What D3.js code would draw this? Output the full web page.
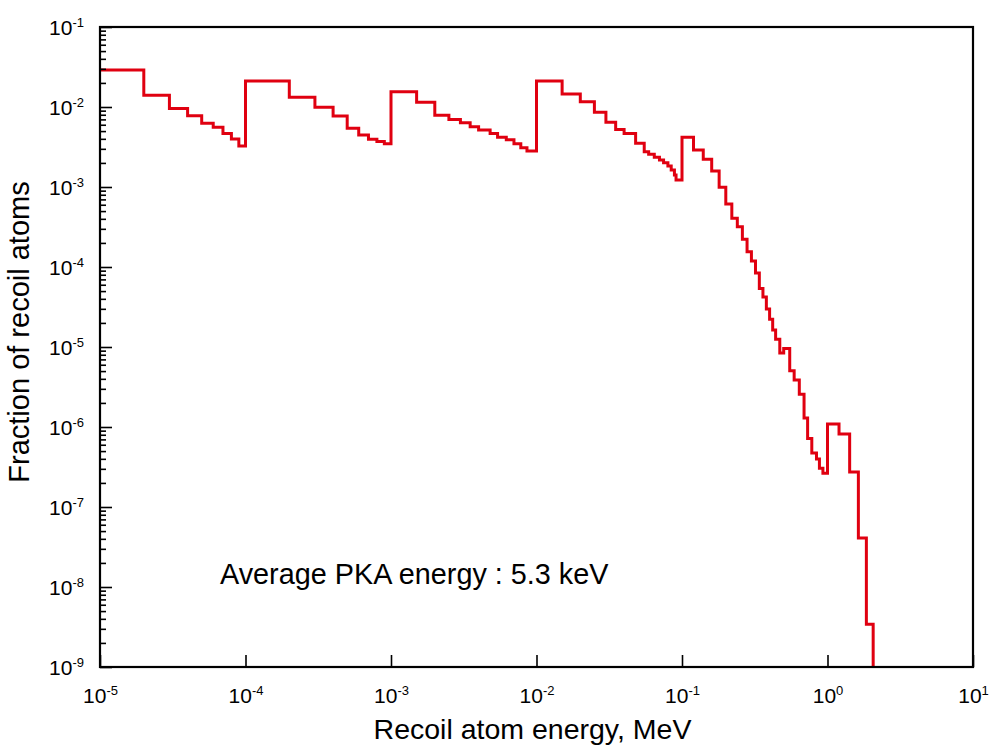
<!DOCTYPE html>
<html>
<head>
<meta charset="utf-8">
<script src="https://cdn.jsdelivr.net/npm/d3@7"></script>
<style>
  html, body { margin: 0; padding: 0; background: #ffffff; }
  svg { display: block; }
  text { font-family: "Liberation Sans", Arial, sans-serif; fill: #000; }
</style>
</head>
<body>
<div id="chart"></div>
<script>
// Lower bin edges (MeV) of the recoil-energy histogram
const energyEdges = [
  1e-5, 2e-5, 3e-5, 4e-5, 5e-5, 6e-5, 7e-5, 8e-5, 9e-5,
  1e-4, 2e-4, 3e-4, 4e-4, 5e-4, 6e-4, 7e-4, 8e-4, 9e-4,
  1e-3, 1.5e-3, 2e-3, 2.5e-3, 3e-3, 3.5e-3, 4e-3, 4.8e-3, 5.4e-3, 6.2e-3, 7e-3, 7.8e-3, 8.6e-3,
  0.01, 0.015, 0.02, 0.025, 0.03, 0.035, 0.04, 0.048, 0.055, 0.059, 0.0645, 0.07, 0.0747, 0.08, 0.0843, 0.0887, 0.091,
  0.1, 0.12, 0.14, 0.16, 0.18, 0.2, 0.22, 0.24, 0.26, 0.28, 0.3, 0.32, 0.34, 0.36, 0.38, 0.4, 0.42, 0.44, 0.47, 0.5,
  0.55, 0.59, 0.64, 0.69, 0.73, 0.78, 0.84, 0.88, 0.93,
  1.0, 1.2, 1.42, 1.63, 1.85, 2.06
];
// Fraction of recoil atoms in each bin (last value: below the axis floor)
const fraction = [
  0.029, 0.014, 0.0096, 0.0078, 0.00625, 0.00557, 0.00468, 0.00398, 0.00325,
  0.0211, 0.0132, 0.0099, 0.0077, 0.00542, 0.00447, 0.00396, 0.0037, 0.00346,
  0.0155, 0.01145, 0.0079, 0.0070, 0.00637, 0.00568, 0.00516, 0.00468, 0.00418, 0.00389, 0.00347, 0.0031, 0.00282,
  0.0211, 0.01454, 0.01166, 0.0086, 0.00645, 0.00525, 0.00468, 0.00352, 0.00276, 0.00256, 0.00235, 0.00218, 0.00201, 0.00183, 0.00163, 0.00141, 0.00122,
  4.18e-3, 2.9e-3, 2.22e-3, 1.58e-3, 9.9e-4, 6.13e-4, 4.07e-4, 3.19e-4, 2.22e-4, 1.55e-4, 1.19e-4, 8.4e-5, 5.38e-5, 4.22e-5, 2.99e-5, 2.22e-5, 1.63e-5, 1.25e-5, 8.4e-6, 9.6e-6,
  5.06e-6, 3.87e-6, 2.56e-6, 1.3e-6, 7.2e-7, 4.73e-7, 3.98e-7, 3.05e-7, 2.64e-7,
  1.09e-6, 8.2e-7, 2.74e-7, 4.1e-8, 3.42e-9, 1e-10
];
const xTickExponents = [-5, -4, -3, -2, -1, 0, 1];
const yTickExponents = [-1, -2, -3, -4, -5, -6, -7, -8, -9];
const xTitle = "Recoil atom energy, MeV";
const yTitle = "Fraction of recoil atoms";
const note = "Average PKA energy : 5.3 keV";

const W = 994, H = 750;
const margin = { left: 100, right: 21, top: 27, bottom: 83 };
const iw = W - margin.left - margin.right;
const ih = H - margin.top - margin.bottom;

const svg = d3.select("#chart").append("svg").attr("width", W).attr("height", H);
const g = svg.append("g").attr("transform", `translate(${margin.left},${margin.top})`);

const x = d3.scaleLog().domain([1e-5, 1e1]).range([0, iw]);
const y = d3.scaleLog().domain([1e-9, 1e-1]).range([ih, 0]);

svg.append("defs").append("clipPath").attr("id", "clip")
  .append("rect").attr("width", iw).attr("height", ih);

// step line
const pts = energyEdges.map((e, i) => [e, fraction[i]]);
const line = d3.line().x(d => x(d[0])).y(d => y(d[1])).curve(d3.curveStepAfter);
g.append("path").datum(pts)
  .attr("clip-path", "url(#clip)")
  .attr("d", line)
  .attr("fill", "none")
  .attr("stroke", "#e00010")
  .attr("stroke-width", 3)
  .attr("stroke-linejoin", "miter");

// minor y ticks
const minorY = [];
for (let p = -9; p < -1 + 1e-9; p++) {
  for (let k = 2; k <= 9; k++) { const v = k * Math.pow(10, p); if (v < 0.1) minorY.push(v); }
}
g.append("g").call(d3.axisLeft(y).tickValues(minorY).tickSize(-6).tickFormat(""))
  .call(s => s.select(".domain").remove())
  .call(s => s.selectAll("line").attr("stroke", "#000").attr("stroke-width", 1.6));

// major y ticks
const yAxis = g.append("g").call(
  d3.axisLeft(y).tickValues(yTickExponents.map(p => Math.pow(10, p))).tickSize(-12).tickPadding(16).tickFormat("")
);
yAxis.select(".domain").remove();
yAxis.selectAll("line").attr("stroke", "#000").attr("stroke-width", 1.6);
yAxis.selectAll(".tick text").each(function(d) {
  const t = d3.select(this);
  t.attr("text-anchor", "end").attr("font-size", 21).attr("dy", "0.36em");
  t.append("tspan").text("10");
  t.append("tspan").attr("dy", "-0.62em").attr("font-size", 13).text(Math.round(Math.log10(d)));
});

// major x ticks
const xAxis = g.append("g").attr("transform", `translate(0,${ih})`).call(
  d3.axisBottom(x).tickValues(xTickExponents.map(p => Math.pow(10, p))).tickSize(-12).tickPadding(21).tickFormat("")
);
xAxis.select(".domain").remove();
xAxis.selectAll("line").attr("stroke", "#000").attr("stroke-width", 1.6);
xAxis.selectAll(".tick text").each(function(d) {
  const t = d3.select(this);
  t.attr("text-anchor", "middle").attr("font-size", 21).attr("dy", "0.71em");
  t.append("tspan").text("10");
  t.append("tspan").attr("dy", "-0.62em").attr("font-size", 13).text(Math.round(Math.log10(d)));
});

// frame
g.append("rect").attr("width", iw).attr("height", ih)
  .attr("fill", "none").attr("stroke", "#000").attr("stroke-width", 2.2);

// titles
svg.append("text").attr("x", margin.left + iw / 2 - 4).attr("y", 739)
  .attr("text-anchor", "middle").attr("font-size", 28.5).text(xTitle);
svg.append("text").attr("transform", `translate(29,332) rotate(-90)`)
  .attr("text-anchor", "middle").attr("font-size", 29).text(yTitle);

// annotation
svg.append("text").attr("x", 220).attr("y", 584).attr("font-size", 28.8).text(note);
</script>
</body>
</html>
